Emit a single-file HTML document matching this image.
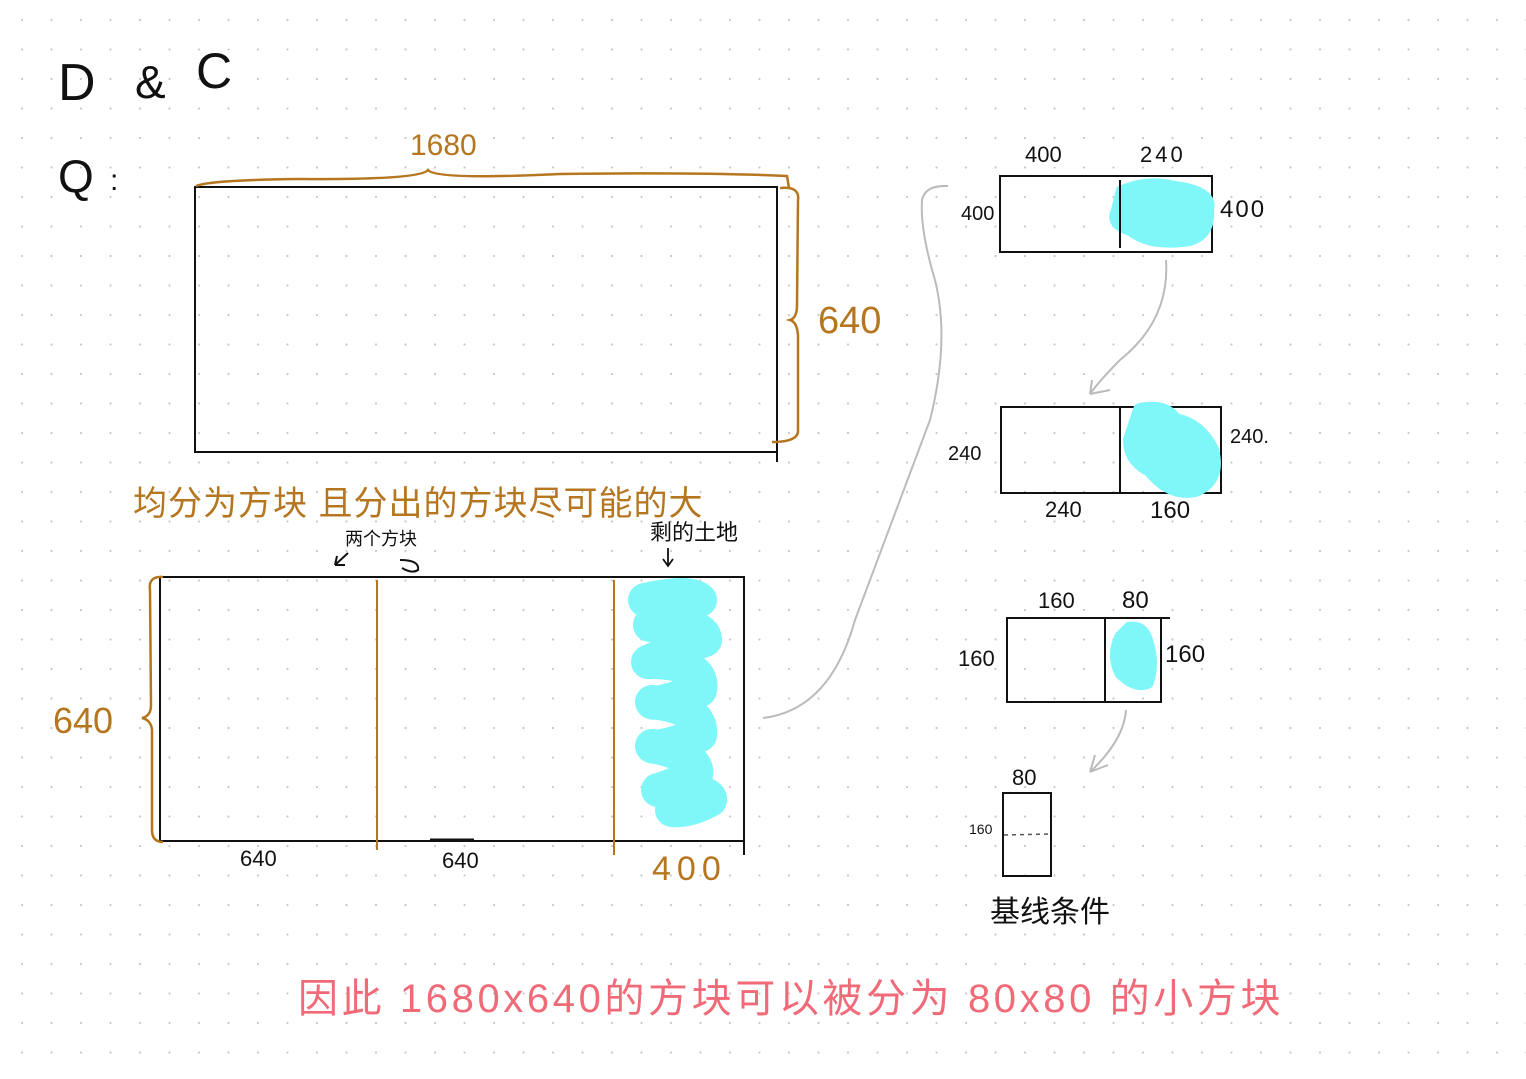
<!DOCTYPE html>
<html><head><meta charset="utf-8"><style>
html,body{margin:0;padding:0;background:#fff;}
svg{display:block;}
text{font-family:"Liberation Sans","Noto Sans CJK SC",sans-serif;}
</style></head><body>
<svg width="1526" height="1079" viewBox="0 0 1526 1079" xmlns="http://www.w3.org/2000/svg">
<defs>
<pattern id="dots" x="7" y="5" width="29.5" height="29.5" patternUnits="userSpaceOnUse">
<circle cx="15" cy="15" r="1.1" fill="#c8c8c8"/>
</pattern>
</defs>
<rect width="1526" height="1079" fill="#fff"/>
<rect width="1526" height="1079" fill="url(#dots)"/>

<text x="58" y="100" font-size="52" fill="#111" font-weight="300">D</text>
<text x="135" y="98" font-size="46" fill="#111">&amp;</text>
<text x="196" y="88" font-size="50" fill="#111">C</text>
<text x="58" y="192" font-size="46" fill="#111">Q</text>
<text x="110" y="190" font-size="30" fill="#111">:</text>

<rect x="195" y="187" width="582" height="265" fill="none" stroke="#111" stroke-width="2"/>
<line x1="777" y1="187" x2="777" y2="462" stroke="#111" stroke-width="2"/>
<path d="M196 186 Q210 180 300 179 Q420 180 428 170 Q436 180 560 174 Q700 172 787 176 L789 188" fill="none" stroke="#b5761f" stroke-width="2.5"/>
<path d="M780 188 Q800 186 798 200 L797 305 Q797 318 790 320 Q797 322 798 335 L798 430 Q799 442 772 442" fill="none" stroke="#b5761f" stroke-width="2.5"/>
<text x="410" y="155" font-size="30" fill="#b5761f">1680</text>
<text x="818" y="333" font-size="38" fill="#b5761f">640</text>

<text x="133" y="515" font-size="34" fill="#b5761f" letter-spacing="1">均分为方块 且分出的方块尽可能的大</text>

<rect x="160" y="577" width="584" height="264" fill="none" stroke="#111" stroke-width="2"/>
<line x1="744" y1="577" x2="744" y2="855" stroke="#111" stroke-width="2"/>
<line x1="377" y1="580" x2="377" y2="850" stroke="#b5761f" stroke-width="2"/>
<line x1="614" y1="580" x2="614" y2="855" stroke="#b5761f" stroke-width="2"/>
<path d="M163 577 Q148 576 150 590 L151 705 Q151 716 142 718 Q151 720 152 730 L152 830 Q152 842 163 842" fill="none" stroke="#b5761f" stroke-width="2.5"/>
<text x="53" y="733" font-size="36" fill="#b5761f">640</text>
<text x="240" y="866" font-size="22" fill="#111">640</text>
<text x="442" y="868" font-size="22" fill="#111">640</text>
<line x1="430" y1="840" x2="474" y2="840" stroke="#111" stroke-width="3"/>
<text x="652" y="880" font-size="34" fill="#b5761f" letter-spacing="6">400</text>
<text x="345" y="545" font-size="18" fill="#111">两个方块</text>
<path d="M348 553 L335 565 M335 565 L345 565 M335 565 L337 556" stroke="#111" stroke-width="2" fill="none"/>
<path d="M400 560 Q420 560 418 570 Q412 574 402 568" stroke="#111" stroke-width="2" fill="none"/>
<text x="650" y="540" font-size="22" fill="#111">剩的土地</text>
<path d="M668 548 L668 565 M663 559 L668 566 L673 559" stroke="#111" stroke-width="1.8" fill="none"/>

<path d="M645 600 Q690 590 700 600 Q660 612 650 625 Q705 622 705 640 Q655 658 648 662 Q705 662 700 690 Q655 706 652 702 Q703 708 700 735 Q655 750 652 746 Q700 756 696 775 Q662 790 658 790 Q712 790 710 800 Q688 812 672 810" fill="none" stroke="#7ff6f8" stroke-width="34" stroke-linecap="round" stroke-linejoin="round"/>

<path d="M763 718 Q830 710 855 620 Q900 500 930 420 Q950 340 935 280 Q920 230 922 200 Q925 185 948 186" fill="none" stroke="#bbb" stroke-width="2"/>

<rect x="1000" y="176" width="212" height="76" fill="none" stroke="#111" stroke-width="2"/>
<path d="M1120 190 Q1145 178 1175 185 Q1215 190 1210 210 Q1212 235 1190 242 Q1150 248 1130 232 Q1108 225 1115 210 Z" fill="#7ff6f8" stroke="#7ff6f8" stroke-width="8" stroke-linejoin="round"/>
<line x1="1120" y1="180" x2="1120" y2="248" stroke="#111" stroke-width="2"/>
<text x="1025" y="162" font-size="22" fill="#111">400</text>
<text x="1140" y="162" font-size="22" fill="#111" letter-spacing="3">240</text>
<text x="961" y="220" font-size="20" fill="#111">400</text>
<text x="1220" y="217" font-size="24" fill="#111" letter-spacing="2">400</text>
<path d="M1166 260 Q1170 320 1120 360 Q1100 380 1090 394 M1090 394 L1110 390 M1090 394 L1092 380" fill="none" stroke="#bbb" stroke-width="2"/>

<rect x="1001" y="407" width="220" height="86" fill="none" stroke="#111" stroke-width="2"/>
<path d="M1140 410 Q1165 405 1175 420 Q1200 425 1212 450 Q1220 480 1195 490 Q1170 495 1150 470 Q1130 460 1130 440 Z" fill="#7ff6f8" stroke="#7ff6f8" stroke-width="14" stroke-linejoin="round"/>
<line x1="1120" y1="407" x2="1120" y2="493" stroke="#111" stroke-width="2"/>
<text x="948" y="460" font-size="20" fill="#111">240</text>
<text x="1230" y="443" font-size="20" fill="#111">240.</text>
<text x="1045" y="517" font-size="22" fill="#111">240</text>
<text x="1150" y="518" font-size="24" fill="#111">160</text>

<rect x="1007" y="618" width="154" height="84" fill="none" stroke="#111" stroke-width="2"/>
<line x1="1161" y1="618" x2="1170" y2="618" stroke="#111" stroke-width="2"/>
<path d="M1128 625 Q1145 622 1150 640 Q1158 665 1150 685 Q1135 692 1118 675 Q1108 655 1118 635 Z" fill="#7ff6f8" stroke="#7ff6f8" stroke-width="6" stroke-linejoin="round"/>
<line x1="1105" y1="618" x2="1105" y2="702" stroke="#111" stroke-width="2"/>
<text x="1038" y="608" font-size="22" fill="#111">160</text>
<text x="1122" y="608" font-size="24" fill="#111">80</text>
<text x="958" y="666" font-size="22" fill="#111">160</text>
<text x="1165" y="662" font-size="24" fill="#111">160</text>
<path d="M1126 710 Q1124 740 1090 772 M1090 772 L1108 765 M1090 772 L1095 755" fill="none" stroke="#bbb" stroke-width="2"/>

<rect x="1003" y="793" width="48" height="83" fill="none" stroke="#111" stroke-width="2"/>
<line x1="1004" y1="835" x2="1050" y2="834" stroke="#555" stroke-width="1.5" stroke-dasharray="4,4"/>
<text x="1012" y="785" font-size="22" fill="#111">80</text>
<text x="969" y="834" font-size="14" fill="#111">160</text>
<text x="990" y="922" font-size="30" fill="#111">基线条件</text>

<text x="298" y="1012" font-size="40" fill="#f06a78" letter-spacing="3.6">因此 1680x640的方块可以被分为 80x80 的小方块</text>
</svg>
</body></html>
